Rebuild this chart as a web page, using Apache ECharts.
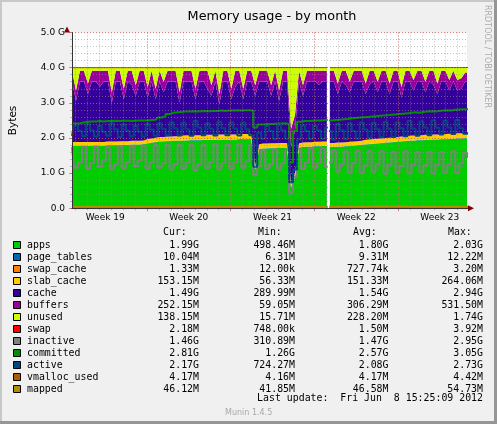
<!DOCTYPE html>
<html>
<head>
<meta charset="utf-8">
<script src="https://cdn.jsdelivr.net/npm/echarts@6/dist/echarts.min.js"></script>
<style>
  html, body { margin: 0; padding: 0; background: #f0f0f0; }
  #chart { width: 497px; height: 424px; }
</style>
</head>
<body>
<div id="chart"></div>
<script>
// Munin "Memory usage - by month". Values in G, one sample every 8 hours.
// x = days since the start of Week 19 (Mon 7 May 2012); one null sample marks the outage.
const days = [];
for (let i = 0; i < 65; i++) days.push(0.72 + i / 3);
days.push(22.2);
for (let k = 0; k < 36; k++) days.push(22.3 + k / 3);

const _ = null;

const apps = [
  1.78,1.78,1.78,1.78,1.78,1.78,1.78,1.78,1.78,1.79,
  1.79,1.79,1.80,1.80,1.80,1.81,1.81,1.81,1.82,1.84,
  1.86,1.88,1.90,1.90,1.91,1.91,1.92,1.92,1.92,1.93,
  1.93,1.93,1.93,1.94,1.94,1.94,1.94,1.95,1.95,1.95,
  1.95,1.95,1.96,1.96,1.96,1.96,1.10,1.68,1.70,1.70,
  1.71,1.71,1.72,1.72,1.72,0.60,0.90,1.72,1.74,1.75,
  1.75,1.76,1.76,1.77,1.77,
  _,
  1.74,1.74,1.75,1.75,1.76,1.77,1.78,1.79,1.80,1.81,
  1.82,1.83,1.84,1.85,1.86,1.87,1.88,1.89,1.90,1.91,
  1.92,1.92,1.93,1.93,1.94,1.94,1.95,1.95,1.96,1.96,
  1.97,1.97,1.98,1.98,1.99,1.99
];
const pageTables = [
  0.008,0.008,0.008,0.008,0.008,0.008,0.008,0.008,0.008,0.008,
  0.008,0.008,0.008,0.008,0.008,0.008,0.008,0.008,0.008,0.008,
  0.008,0.008,0.008,0.008,0.008,0.008,0.008,0.008,0.008,0.008,
  0.009,0.009,0.009,0.009,0.009,0.009,0.009,0.009,0.009,0.009,
  0.009,0.009,0.009,0.009,0.009,0.009,0.007,0.009,0.009,0.009,
  0.009,0.009,0.009,0.009,0.009,0.006,0.007,0.009,0.009,0.009,
  0.010,0.010,0.010,0.010,0.010,
  _,
  0.009,0.009,0.009,0.009,0.009,0.009,0.009,0.009,0.009,0.009,
  0.009,0.009,0.009,0.009,0.009,0.009,0.009,0.009,0.009,0.009,
  0.010,0.010,0.010,0.010,0.010,0.010,0.010,0.010,0.010,0.010,
  0.010,0.010,0.010,0.010,0.010,0.010
];
const swapCache = [
  0.0007,0.0007,0.0007,0.0007,0.0007,0.0007,0.0007,0.0007,0.0007,0.0007,
  0.0007,0.0007,0.0007,0.0007,0.0007,0.0007,0.0007,0.0007,0.0007,0.0007,
  0.0007,0.0007,0.0007,0.0007,0.0007,0.0007,0.0007,0.0007,0.0007,0.0007,
  0.0007,0.0007,0.0007,0.0007,0.0007,0.0007,0.0007,0.0007,0.0007,0.0007,
  0.0007,0.0007,0.0007,0.0007,0.0007,0.0007,0.0020,0.0010,0.0007,0.0007,
  0.0007,0.0007,0.0007,0.0007,0.0007,0.0030,0.0020,0.0010,0.0007,0.0007,
  0.0007,0.0007,0.0007,0.0007,0.0007,
  _,
  0.0008,0.0008,0.0008,0.0008,0.0008,0.0008,0.0008,0.0008,0.0008,0.0008,
  0.0008,0.0008,0.0008,0.0008,0.0008,0.0008,0.0008,0.0008,0.0008,0.0008,
  0.0008,0.0008,0.0008,0.0008,0.0008,0.0008,0.0008,0.0008,0.0008,0.0008,
  0.0010,0.0010,0.0012,0.0012,0.0013,0.0013
];
const slabCache = [
  0.10,0.10,0.10,0.10,0.10,0.10,0.10,0.10,0.10,0.10,
  0.10,0.10,0.10,0.10,0.10,0.10,0.10,0.10,0.10,0.12,
  0.12,0.12,0.12,0.12,0.12,0.12,0.12,0.12,0.14,0.14,
  0.14,0.14,0.14,0.14,0.14,0.14,0.14,0.14,0.14,0.14,
  0.14,0.14,0.14,0.14,0.14,0.14,0.10,0.13,0.13,0.13,
  0.13,0.13,0.13,0.13,0.13,0.08,0.10,0.12,0.12,0.12,
  0.12,0.12,0.12,0.12,0.12,
  _,
  0.11,0.11,0.11,0.11,0.11,0.11,0.11,0.11,0.11,0.13,
  0.13,0.13,0.13,0.13,0.13,0.13,0.13,0.13,0.13,0.13,
  0.13,0.14,0.14,0.14,0.14,0.14,0.14,0.14,0.14,0.14,
  0.14,0.14,0.14,0.14,0.14,0.14
];
const cache = [
  1.72,1.16,1.72,1.72,1.36,1.72,1.72,1.57,1.72,1.71,
  1.10,1.71,1.70,1.19,1.70,1.59,1.28,1.69,1.68,1.18,
  1.62,1.09,1.58,1.27,1.57,1.57,1.56,0.95,1.54,1.53,
  1.53,1.02,1.53,1.52,1.32,1.11,1.52,0.85,1.51,1.51,
  1.00,1.36,1.50,0.99,1.50,1.50,1.99,1.79,1.77,1.77,
  1.35,1.76,1.19,1.75,1.75,1.07,1.20,1.76,1.33,1.73,
  1.73,1.72,1.62,1.71,1.71,
  _,
  1.75,1.75,1.38,1.74,1.63,1.41,1.71,1.70,1.69,1.30,
  1.57,1.64,1.32,1.62,1.61,1.24,1.59,1.58,1.11,1.56,
  1.55,1.28,1.53,1.53,1.21,1.52,1.41,1.15,1.50,1.50,
  1.23,1.49,1.22,1.27,1.47,1.47
];
const buffers = [
  0.30,0.30,0.30,0.30,0.30,0.30,0.30,0.45,0.30,0.30,
  0.30,0.30,0.30,0.30,0.30,0.40,0.30,0.30,0.30,0.30,
  0.30,0.30,0.30,0.30,0.30,0.30,0.30,0.30,0.30,0.30,
  0.30,0.30,0.30,0.30,0.50,0.30,0.30,0.30,0.30,0.30,
  0.30,0.45,0.30,0.30,0.30,0.30,0.30,0.30,0.30,0.30,
  0.30,0.30,0.30,0.30,0.30,0.50,0.45,0.30,0.30,0.30,
  0.30,0.30,0.40,0.30,0.30,
  _,
  0.30,0.30,0.30,0.30,0.40,0.30,0.30,0.30,0.30,0.30,
  0.38,0.30,0.30,0.30,0.30,0.30,0.30,0.30,0.30,0.30,
  0.30,0.30,0.30,0.30,0.30,0.30,0.40,0.30,0.30,0.30,
  0.30,0.30,0.30,0.30,0.25,0.25
];
const unused = [
  0.09,0.65,0.09,0.09,0.45,0.09,0.09,0.09,0.09,0.09,
  0.70,0.09,0.09,0.60,0.09,0.09,0.50,0.09,0.09,0.55,
  0.09,0.60,0.09,0.40,0.09,0.09,0.09,0.70,0.09,0.09,
  0.09,0.60,0.09,0.09,0.09,0.50,0.09,0.75,0.09,0.09,
  0.60,0.09,0.09,0.60,0.09,0.09,0.50,0.09,0.09,0.09,
  0.50,0.09,0.65,0.09,0.09,1.74,1.34,0.09,0.50,0.09,
  0.09,0.09,0.09,0.09,0.09,
  _,
  0.09,0.09,0.45,0.09,0.09,0.40,0.09,0.09,0.09,0.45,
  0.09,0.09,0.40,0.09,0.09,0.45,0.09,0.09,0.55,0.09,
  0.09,0.35,0.09,0.09,0.40,0.09,0.09,0.45,0.09,0.09,
  0.35,0.09,0.35,0.30,0.14,0.14
];
const swap = [
  0.0015,0.0015,0.0015,0.0015,0.0015,0.0015,0.0015,0.0015,0.0015,0.0015,
  0.0015,0.0015,0.0015,0.0015,0.0015,0.0015,0.0015,0.0015,0.0015,0.0015,
  0.0015,0.0015,0.0015,0.0015,0.0015,0.0015,0.0015,0.0015,0.0015,0.0015,
  0.0015,0.0015,0.0015,0.0015,0.0015,0.0015,0.0015,0.0015,0.0015,0.0015,
  0.0015,0.0015,0.0015,0.0015,0.0015,0.0015,0.0030,0.0015,0.0015,0.0015,
  0.0015,0.0015,0.0015,0.0015,0.0015,0.0039,0.0030,0.0015,0.0015,0.0015,
  0.0015,0.0015,0.0015,0.0015,0.0015,
  _,
  0.0008,0.0008,0.0008,0.0008,0.0008,0.0008,0.0008,0.0008,0.0008,0.0008,
  0.0010,0.0010,0.0010,0.0010,0.0010,0.0010,0.0010,0.0010,0.0010,0.0010,
  0.0015,0.0015,0.0015,0.0015,0.0015,0.0015,0.0015,0.0015,0.0015,0.0015,
  0.0020,0.0020,0.0020,0.0022,0.0022,0.0022
];
const inactive = [
  1.74,1.15,1.30,1.75,1.12,1.28,1.76,1.18,1.35,1.74,
  1.10,1.25,1.77,1.14,1.32,1.76,1.20,1.36,1.78,1.12,
  1.30,1.80,1.15,1.28,1.80,1.10,1.26,1.80,1.12,1.30,
  1.81,1.08,1.25,1.80,1.14,1.32,1.82,1.10,1.28,1.81,
  1.12,1.30,1.82,1.15,1.34,1.80,0.95,1.20,1.66,1.12,
  1.25,1.68,1.10,1.28,1.67,0.45,0.90,1.68,1.12,1.30,
  1.70,1.15,1.28,1.70,1.18,
  _,
  1.30,1.65,1.05,1.25,1.62,1.02,1.28,1.64,1.00,1.22,
  1.63,1.04,1.26,1.62,0.98,1.24,1.61,1.02,1.20,1.62,
  1.00,1.25,1.60,1.03,1.22,1.61,0.99,1.24,1.60,1.02,
  1.26,1.62,1.00,1.28,1.58,1.46
];
const committed = [
  2.41,2.41,2.42,2.44,2.46,2.47,2.47,2.48,2.47,2.48,
  2.48,2.49,2.48,2.49,2.49,2.48,2.49,2.50,2.50,2.50,
  2.51,2.52,2.58,2.62,2.68,2.72,2.73,2.74,2.75,2.75,
  2.76,2.75,2.76,2.77,2.76,2.77,2.77,2.78,2.77,2.78,
  2.78,2.79,2.78,2.79,2.79,2.78,2.30,2.38,2.39,2.40,
  2.40,2.41,2.41,2.42,2.40,1.30,2.20,2.46,2.48,2.48,
  2.49,2.50,2.50,2.51,2.52,
  _,
  2.50,2.51,2.52,2.53,2.54,2.56,2.57,2.58,2.59,2.60,
  2.61,2.62,2.63,2.64,2.65,2.66,2.67,2.68,2.69,2.70,
  2.72,2.73,2.72,2.74,2.75,2.76,2.75,2.77,2.78,2.79,
  2.78,2.80,2.81,2.82,2.82,2.81
];
const active = [
  2.06,2.36,2.20,2.05,2.40,2.22,2.04,2.34,2.18,2.06,
  2.42,2.25,2.03,2.38,2.20,2.05,2.35,2.18,2.04,2.40,
  2.24,2.06,2.42,2.26,2.08,2.45,2.28,2.07,2.44,2.25,
  2.06,2.48,2.30,2.08,2.42,2.26,2.07,2.46,2.28,2.08,
  2.45,2.27,2.07,2.44,2.25,2.08,1.18,2.15,1.98,2.35,
  2.20,1.97,2.38,2.22,1.98,0.74,1.10,1.96,2.36,2.20,
  1.97,2.34,2.22,1.98,2.30,
  _,
  2.20,1.95,2.40,2.22,1.97,2.42,2.20,1.98,2.44,2.24,
  2.00,2.43,2.25,2.02,2.46,2.26,2.03,2.45,2.28,2.05,
  2.48,2.27,2.06,2.47,2.30,2.08,2.50,2.29,2.10,2.49,
  2.30,2.11,2.51,2.28,2.12,2.17
];
const vmallocUsed = [
  0.0042,0.0042,0.0042,0.0042,0.0042,0.0042,0.0042,0.0042,0.0042,0.0042,
  0.0042,0.0042,0.0042,0.0042,0.0042,0.0042,0.0042,0.0042,0.0042,0.0042,
  0.0042,0.0042,0.0042,0.0042,0.0042,0.0042,0.0042,0.0042,0.0042,0.0042,
  0.0042,0.0042,0.0042,0.0042,0.0042,0.0042,0.0042,0.0042,0.0042,0.0042,
  0.0042,0.0042,0.0042,0.0042,0.0042,0.0042,0.0042,0.0042,0.0042,0.0042,
  0.0042,0.0042,0.0042,0.0042,0.0042,0.0043,0.0042,0.0042,0.0042,0.0042,
  0.0042,0.0042,0.0042,0.0042,0.0042,
  _,
  0.0041,0.0041,0.0041,0.0041,0.0041,0.0041,0.0041,0.0041,0.0041,0.0041,
  0.0041,0.0041,0.0041,0.0041,0.0041,0.0041,0.0041,0.0041,0.0041,0.0041,
  0.0041,0.0041,0.0041,0.0041,0.0041,0.0041,0.0041,0.0041,0.0041,0.0041,
  0.0041,0.0041,0.0041,0.0041,0.0041,0.0041
];
const mapped = [
  0.045,0.045,0.045,0.045,0.045,0.045,0.045,0.045,0.045,0.045,
  0.045,0.045,0.045,0.045,0.045,0.045,0.045,0.045,0.045,0.045,
  0.045,0.045,0.045,0.045,0.045,0.045,0.045,0.045,0.045,0.045,
  0.047,0.047,0.047,0.047,0.047,0.047,0.047,0.047,0.047,0.047,
  0.047,0.047,0.047,0.047,0.047,0.047,0.053,0.047,0.047,0.047,
  0.047,0.047,0.047,0.047,0.047,0.042,0.050,0.047,0.047,0.047,
  0.046,0.046,0.046,0.046,0.046,
  _,
  0.046,0.046,0.046,0.046,0.046,0.046,0.046,0.046,0.046,0.046,
  0.048,0.048,0.048,0.048,0.048,0.048,0.048,0.048,0.048,0.048,
  0.046,0.046,0.046,0.046,0.046,0.046,0.046,0.046,0.046,0.046,
  0.046,0.046,0.046,0.046,0.046,0.046
];

// axis ticks / labels (in days since the start of Week 19)
const dayLines = Array.from({ length: 33 }, (_, d) => d + 1);
const weekStarts = [7, 14, 21, 28];
const weekMids = [3.5, 10.5, 17.5, 24.5, 31.5];
const weekLabels = ['Week 19', 'Week 20', 'Week 21', 'Week 22', 'Week 23'];
const yTickLabels = ['0.0', '1.0 G', '2.0 G', '3.0 G', '4.0 G', '5.0 G'];

// legend table (Munin prints these under the graph)
const names = ['apps', 'page_tables', 'swap_cache', 'slab_cache', 'cache', 'buffers', 'unused',
  'swap', 'inactive', 'committed', 'active', 'vmalloc_used', 'mapped'];
const colors = ['#00CC00', '#0066B3', '#FF8000', '#FFCC00', '#330099', '#990099', '#CCFF00',
  '#FF0000', '#808080', '#008F00', '#00487D', '#B35A00', '#B38F00'];
const curVals = ['1.99G', '10.04M', '1.33M', '153.15M', '1.49G', '252.15M', '138.15M', '2.18M', '1.46G', '2.81G', '2.17G', '4.17M', '46.12M'];
const minVals = ['498.46M', '6.31M', '12.00k', '56.33M', '289.99M', '59.05M', '15.71M', '748.00k', '310.89M', '1.26G', '724.27M', '4.16M', '41.85M'];
const avgVals = ['1.80G', '9.31M', '727.74k', '151.33M', '1.54G', '306.29M', '228.20M', '1.50M', '1.47G', '2.57G', '2.08G', '4.17M', '46.58M'];
const maxVals = ['2.03G', '12.22M', '3.20M', '264.06M', '2.94G', '531.50M', '1.74G', '3.92M', '2.95G', '3.05G', '2.73G', '4.42M', '54.73M'];

const stacked = [apps, pageTables, swapCache, slabCache, cache, buffers, unused, swap];
const lines = [inactive, committed, active, vmallocUsed, mapped];

const DAY = 86400000;
const T0 = Date.UTC(2012, 4, 7);
const X_MIN = 0.72, X_MAX = 33.78;
const MONO = '"DejaVu Sans Mono", monospace';
const SANS = '"DejaVu Sans", sans-serif';
const GRID_C = 'rgba(143,143,143,0.55)';
const MGRID_C = 'rgba(222,80,80,0.6)';

// time axis for the data so the stack goes on the values, not on x
const pts = vals => vals.map((v, i) => [T0 + days[i] * DAY, v]);

const series = [];
stacked.forEach((vals, s) => {
  const isSwap = names[s] === 'swap';
  series.push({
    name: names[s], type: 'line', stack: 'mem', data: pts(vals),
    symbol: 'none', silent: true, z: 2,
    lineStyle: isSwap ? { width: 1, color: colors[s] } : { width: 0, opacity: 0 },
    areaStyle: { color: colors[s], opacity: 1 },
    itemStyle: { color: colors[s] }
  });
});
lines.forEach((vals, j) => {
  const s = stacked.length + j;
  series.push({
    name: names[s], type: 'line', step: 'middle', data: pts(vals),
    symbol: 'none', silent: true, z: 3,
    lineStyle: { width: 2, color: colors[s] },
    itemStyle: { color: colors[s] }
  });
});

const graphic = [
  { type: 'rect', shape: { x: 0, y: 0, width: 497, height: 2 }, style: { fill: '#c8c8c8' } },
  { type: 'rect', shape: { x: 0, y: 0, width: 2, height: 424 }, style: { fill: '#c8c8c8' } },
  { type: 'rect', shape: { x: 494, y: 0, width: 3, height: 424 }, style: { fill: '#969696' } },
  { type: 'rect', shape: { x: 0, y: 421, width: 497, height: 3 }, style: { fill: '#969696' } },
  // axis arrows
  { type: 'polygon', z: 10, shape: { points: [[67, 26.5], [64, 32.5], [70, 32.5]] }, style: { fill: '#7f0000' } },
  { type: 'line', z: 10, shape: { x1: 467, y1: 208.3, x2: 469, y2: 208.3 }, style: { stroke: '#333', lineWidth: 1 } },
  { type: 'polygon', z: 10, shape: { points: [[474, 208.3], [468, 205.3], [468, 211.3]] }, style: { fill: '#7f0000' } },
  {
    type: 'text', x: 487.5, y: 5, rotation: -Math.PI / 2,
    style: { text: 'RRDTOOL / TOBI OETIKER', fontSize: 8, fontFamily: SANS, fill: '#acacac',
      textAlign: 'left', align: 'left', textVerticalAlign: 'middle', verticalAlign: 'middle' }
  }
];
const cell = (text, x, y, align, color) => ({
  type: 'text', x, y,
  style: { text, fontSize: 9.9, fontFamily: MONO, fill: color || '#000',
    textAlign: align, align, textVerticalAlign: 'middle', verticalAlign: 'middle' }
});
graphic.push(cell('Cur:', 163, 232.5, 'left'));
graphic.push(cell('Min:', 258, 232.5, 'left'));
graphic.push(cell('Avg:', 353, 232.5, 'left'));
graphic.push(cell('Max:', 448, 232.5, 'left'));
names.forEach((n, r) => {
  const y = 245 + r * 12;
  graphic.push({ type: 'rect', shape: { x: 13.5, y: y - 3.5, width: 7, height: 7 },
    style: { fill: colors[r], stroke: '#000', lineWidth: 1 } });
  graphic.push(cell(n, 27, y, 'left'));
  graphic.push(cell(curVals[r], 199, y, 'right'));
  graphic.push(cell(minVals[r], 295, y, 'right'));
  graphic.push(cell(avgVals[r], 388.5, y, 'right'));
  graphic.push(cell(maxVals[r], 483, y, 'right'));
});
graphic.push(cell('Last update:  Fri Jun  8 15:25:09 2012', 483, 398.5, 'right'));
graphic.push({ type: 'text', x: 225, y: 413, style: { text: 'Munin 1.4.5', fontSize: 8, fontFamily: SANS,
  fill: '#a8a8a8', textAlign: 'left', align: 'left', textVerticalAlign: 'middle', verticalAlign: 'middle' } });

const chart = echarts.init(document.getElementById('chart'), null, { renderer: 'canvas' });
chart.setOption({
  animation: false,
  backgroundColor: '#f0f0f0',
  title: {
    text: 'Memory usage - by month', left: 267, top: 5, textAlign: 'center',
    textStyle: { fontFamily: SANS, fontSize: 12.8, fontWeight: 'normal', color: '#000' }
  },
  grid: { left: 67, top: 32.5, width: 400, height: 175.8, show: true, backgroundColor: '#fff', borderWidth: 0 },
  xAxis: [
    {
      type: 'time', min: T0 + X_MIN * DAY, max: T0 + X_MAX * DAY, position: 'bottom', z: 7,
      axisLine: { show: true, onZero: false, lineStyle: { color: '#333', width: 1 } },
      axisTick: { show: false }, axisLabel: { show: false }, splitLine: { show: false }
    },
    {
      type: 'value', min: X_MIN, max: X_MAX, position: 'bottom', z: 5,
      axisLine: { show: false }, axisLabel: { show: false },
      axisTick: { show: true, length: 2, customValues: dayLines, lineStyle: { color: GRID_C } },
      splitLine: { show: true, lineStyle: { color: GRID_C, type: [1, 2], width: 1 } }
    },
    {
      type: 'value', min: X_MIN, max: X_MAX, position: 'bottom', z: 6,
      axisLine: { show: false },
      axisTick: { show: true, length: 3, customValues: weekStarts, lineStyle: { color: MGRID_C } },
      axisLabel: {
        show: true, customValues: weekMids, margin: 5, color: '#000', fontFamily: SANS, fontSize: 9,
        formatter: v => weekLabels[weekMids.findIndex(m => Math.abs(m - v) < 0.01)]
      },
      splitLine: { show: true, lineStyle: { color: MGRID_C, type: [1, 2], width: 1 } }
    }
  ],
  yAxis: [
    {
      type: 'value', min: 0, max: 5, interval: 1, position: 'left', z: 6,
      axisLine: { show: true, lineStyle: { color: '#333', width: 1 } },
      axisTick: { show: true, length: 3, lineStyle: { color: MGRID_C } },
      axisLabel: { margin: 7, color: '#000', fontFamily: SANS, fontSize: 9, formatter: v => yTickLabels[Math.round(v)] },
      splitLine: { show: true, lineStyle: { color: MGRID_C, type: [1, 2], width: 1 } },
      name: 'Bytes', nameLocation: 'middle', nameGap: 53,
      nameTextStyle: { fontFamily: SANS, fontSize: 10.5, color: '#000' }
    },
    {
      type: 'value', min: 0, max: 5, interval: 0.2, position: 'left', z: 5,
      axisLine: { show: false }, axisLabel: { show: false },
      axisTick: { show: true, length: 2, lineStyle: { color: GRID_C } },
      splitLine: { show: true, lineStyle: { color: GRID_C, type: [1, 2], width: 1 } }
    }
  ],
  series,
  graphic
});
</script>
</body>
</html>
